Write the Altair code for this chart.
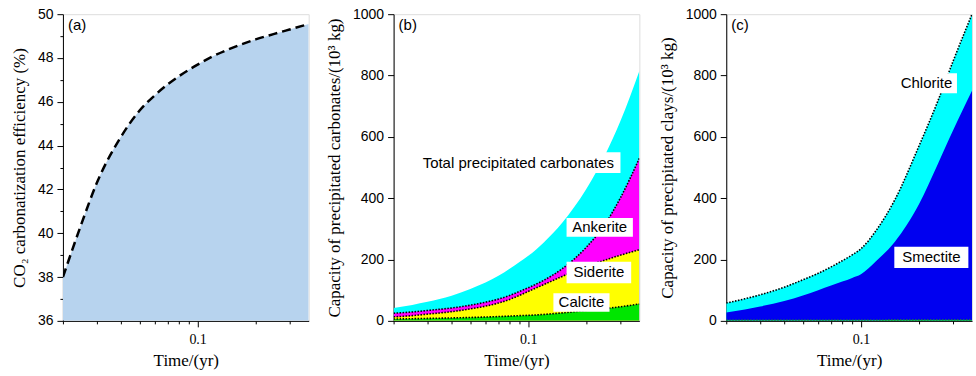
import altair as alt
import pandas as pd

# ---------------- data ----------------
T = [0.02, 0.025, 0.03, 0.04, 0.05, 0.06, 0.07, 0.08, 0.09, 0.1,
     0.12, 0.15, 0.2, 0.25, 0.3, 0.377]

# (a) CO2 carbonatization efficiency (%)
EFF = [38.0, 40.45, 42.3, 44.4, 45.6, 46.3, 46.8, 47.17, 47.46, 47.7,
       48.08, 48.45, 48.85, 49.1, 49.3, 49.55]

# (b) cumulative boundaries of precipitated carbonates (10^3 kg)
CARB_TOTAL = [42, 52, 62, 82, 104, 125, 147, 170, 192, 212, 255, 320, 430, 540, 650, 815]
ANKERITE_TOP = [25, 29, 34, 42, 51, 61, 71, 83, 96, 108, 132, 170, 240, 315, 400, 530]
SIDERITE_TOP = [13, 17, 22, 30, 39, 48, 58, 70, 83, 96, 118, 145, 178, 198, 214, 232]
CALCITE_TOP = [6, 7, 8, 9.5, 11, 12.5, 14, 15.5, 17, 18, 21, 26, 34, 40, 46, 55]

# (c) cumulative boundaries of precipitated clays (10^3 kg)
CLAY_TOTAL = [58, 72, 85, 110, 134, 155, 176, 196, 215, 235, 295, 395, 570, 715, 845, 1000]
SMECTITE_TOP = [27, 37, 47, 65, 83, 100, 115, 128, 140, 152, 195, 258, 380, 510, 620, 750]
OTHER_CLAY = [2, 2, 2, 2, 2, 2, 2, 2, 2, 2, 2, 2.5, 2.5, 3, 3, 3]

# tick values
X_TICKS = [0.02, 0.03, 0.04, 0.05, 0.06, 0.07, 0.08, 0.09, 0.1, 0.2, 0.3]
YA_TICKS = [36, 37, 38, 39, 40, 41, 42, 43, 44, 45, 46, 47, 48, 49, 50]
YB_TICKS = [0, 100, 200, 300, 400, 500, 600, 700, 800, 900, 1000]

# label boxes: text, t0, t1, v0, v1
B_LABELS = ["Total precipitated carbonates", "Ankerite", "Siderite", "Calcite"]
B_T0 = [0.0262, 0.158, 0.158, 0.135]
B_T1 = [0.3009, 0.349, 0.342, 0.264]
B_V0 = [482, 274, 123, 30]
B_V1 = [550, 335, 193, 90]

C_LABELS = ["Chlorite", "Smectite"]
C_T0 = [0.152, 0.149]
C_T1 = [0.315, 0.361]
C_V0 = [742, 172]
C_V1 = [807, 242]

PANEL_TAGS = ["(a)", "(b)", "(c)"]

# ---------------- styling ----------------
W, H = 246, 307
SANS = "Liberation Sans"
SERIF = "Liberation Serif"

x_scale = alt.Scale(type="log", domain=[0.02, 0.377], nice=False)


def x_axis():
    return alt.Axis(
        values=X_TICKS,
        labelExpr="datum.value == 0.1 ? '0.1' : ''",
        tickSize={"condition": {"test": "datum.value == 0.1", "value": 6}, "value": 3},
        title="Time/(yr)",
        titleFont=SERIF, titleFontSize=17, titleFontWeight="normal",
        labelFont=SERIF, labelFontSize=14, labelPadding=6, titlePadding=6,
        grid=False, domainColor="black", tickColor="black",
        labelColor="black", titleColor="black", labelFlush=False,
    )


def y_axis(values, major_test, title, tpad):
    return alt.Axis(
        values=values, format="d",
        labelExpr=f"({major_test}) ? datum.label : ''",
        tickSize={"condition": {"test": major_test, "value": 6}, "value": 3},
        title=title,
        titleFont=SERIF, titleFontSize=17, titleFontWeight="normal",
        labelFont=SANS, labelFontSize=14, labelPadding=4, titlePadding=tpad,
        grid=False, domainColor="black", tickColor="black",
        labelColor="black", titleColor="black",
    )


def tag(text):
    return alt.Chart(pd.DataFrame({"tag": [text]})).mark_text(
        align="left", baseline="top", font=SANS, fontSize=15, color="black"
    ).encode(x=alt.value(5), y=alt.value(4), text="tag:N")


def boxes(labels, t0, t1, v0, v1, ysc):
    df = pd.DataFrame({"label": labels, "t0": t0, "t1": t1, "v0": v0, "v1": v1})
    df["tc"] = (df["t0"] * df["t1"]) ** 0.5
    df["vc"] = (df["v0"] + df["v1"]) / 2
    rect = alt.Chart(df).mark_rect(color="white").encode(
        x=alt.X("t0:Q", scale=x_scale), x2="t1:Q",
        y=alt.Y("v0:Q", scale=ysc), y2="v1:Q")
    txt = alt.Chart(df).mark_text(
        font=SANS, fontSize=15, color="black", baseline="middle", align="center"
    ).encode(x=alt.X("tc:Q", scale=x_scale), y=alt.Y("vc:Q", scale=ysc), text="label:N")
    return rect + txt


# ---------------- panel (a) ----------------
df_a = pd.DataFrame({"t": T, "eff": EFF})
ya_scale = alt.Scale(domain=[36, 50], nice=False, zero=False)
base_a = alt.Chart(df_a).encode(
    x=alt.X("t:Q", scale=x_scale, axis=x_axis()),
    y=alt.Y("eff:Q", scale=ya_scale,
            axis=y_axis(YA_TICKS, "datum.value % 2 == 0",
                        "CO₂ carbonatization efficiency (%)", 9)),
)
area_a = base_a.mark_area(color="#b7d3ee", interpolate="monotone", clip=True).encode(y2=alt.datum(36))
line_a = base_a.mark_line(color="black", strokeDash=[9, 5], strokeWidth=2.5,
                          interpolate="monotone", clip=True)
panel_a = alt.layer(area_a, line_a, tag(PANEL_TAGS[0])).properties(width=W, height=H)

# ---------------- panel (b) ----------------
df_b = pd.DataFrame({"t": T, "total": CARB_TOTAL, "ank": ANKERITE_TOP,
                     "sid": SIDERITE_TOP, "cal": CALCITE_TOP})
yb_scale = alt.Scale(domain=[0, 1000], nice=False)
yb_axis = y_axis(YB_TICKS, "datum.value % 200 == 0",
                 "Capacity of precipitated carbonates/(10³ kg)", 9)
xb = alt.X("t:Q", scale=x_scale, axis=x_axis())


def area(df, col, color, ysc, ax):
    return alt.Chart(df).mark_area(color=color, interpolate="monotone", clip=True).encode(
        x=xb, y=alt.Y(f"{col}:Q", scale=ysc, axis=ax))


def dots(df, col, ysc, color="black"):
    return alt.Chart(df).mark_line(color=color, strokeDash=[1.5, 1.5], strokeWidth=1.6,
                                   interpolate="monotone", clip=True).encode(
        x=alt.X("t:Q", scale=x_scale), y=alt.Y(f"{col}:Q", scale=ysc))


panel_b = alt.layer(
    area(df_b, "total", "#00ffff", yb_scale, yb_axis),
    area(df_b, "ank", "#ff00ff", yb_scale, yb_axis),
    area(df_b, "sid", "#ffff00", yb_scale, yb_axis),
    area(df_b, "cal", "#00e600", yb_scale, yb_axis),
    dots(df_b, "ank", yb_scale),
    dots(df_b, "sid", yb_scale),
    dots(df_b, "cal", yb_scale),
    boxes(B_LABELS, B_T0, B_T1, B_V0, B_V1, yb_scale),
    tag(PANEL_TAGS[1]),
).properties(width=W, height=H)

# ---------------- panel (c) ----------------
df_c = pd.DataFrame({"t": T, "total": CLAY_TOTAL, "sme": SMECTITE_TOP, "oth": OTHER_CLAY})
yc_axis = y_axis(YB_TICKS, "datum.value % 200 == 0",
                 "Capacity of precipitated clays/(10³ kg)", 9)
panel_c = alt.layer(
    area(df_c, "total", "#00ffff", yb_scale, yc_axis),
    area(df_c, "sme", "#0000f0", yb_scale, yc_axis),
    area(df_c, "oth", "#00e600", yb_scale, yc_axis),
    dots(df_c, "total", yb_scale),
    dots(df_c, "oth", yb_scale, "#1a8f1a"),
    boxes(C_LABELS, C_T0, C_T1, C_V0, C_V1, yb_scale),
    tag(PANEL_TAGS[2]),
).properties(width=W, height=H)

left = alt.hconcat(panel_a, panel_b, spacing=15)
chart = alt.hconcat(left, panel_c, spacing=17).properties(
    padding={"left": 9, "top": 6, "right": 3, "bottom": 5}
).configure_view(stroke="black", strokeWidth=1.2).configure(background="white")

chart.save("out.html", embed_options={"renderer": "svg", "actions": False})
